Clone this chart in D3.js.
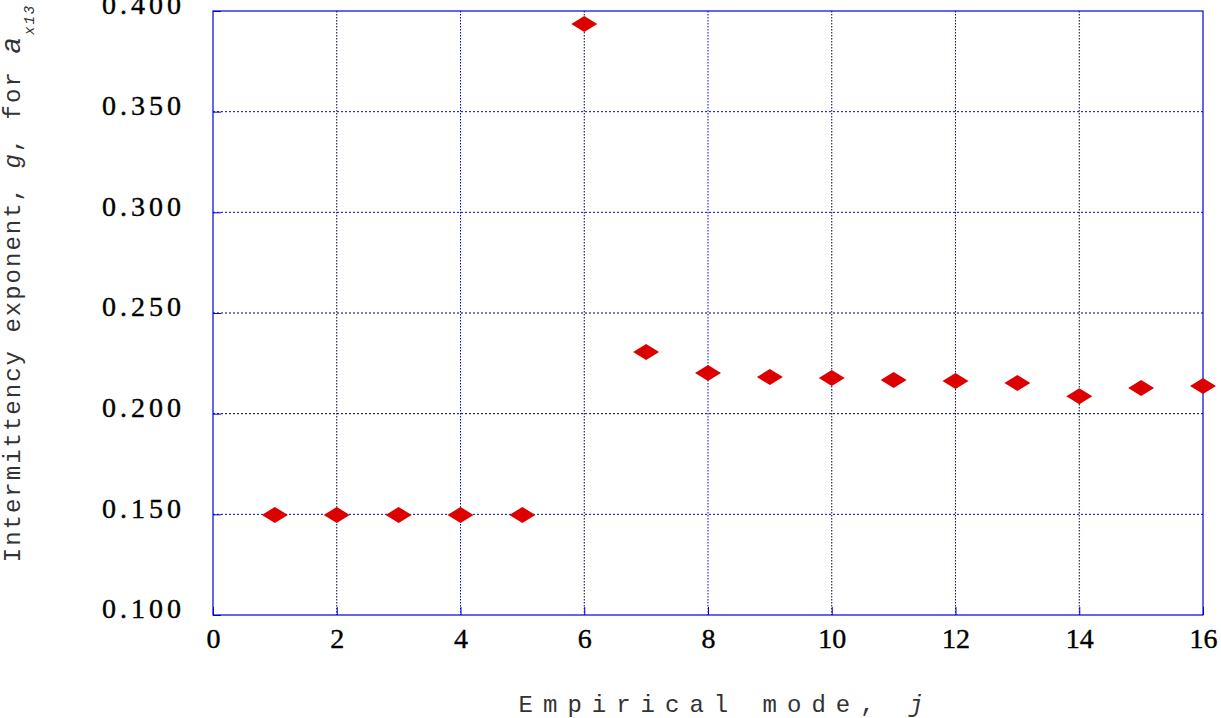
<!DOCTYPE html>
<html><head><meta charset="utf-8">
<script src="https://cdn.jsdelivr.net/npm/d3@7"></script>
<style>body{margin:0;background:#fff}</style>
</head><body><svg id="chart" width="1221" height="718"></svg>
<script>
const modes = [1,2,3,4,5,6,7,8,9,10,11,12,13,14,15,16];
const exponents = [0.1497,0.1497,0.1497,0.1497,0.1497,0.3935,0.2306,0.2202,0.2182,0.2177,0.2167,0.2162,0.2152,0.2087,0.2127,0.2137];
const xTicks = [0,2,4,6,8,10,12,14,16];
const yTicks = [0.1,0.15,0.2,0.25,0.3,0.35,0.4];

const margin = {left: 213, right: 18, top: 11, bottom: 103};
const W = 1221, H = 718;
const svg = d3.select("#chart");
const x = d3.scaleLinear().domain([0,16]).range([margin.left, W - margin.right]);
const y = d3.scaleLinear().domain([0.1,0.4]).range([H - margin.bottom, margin.top]);

// grid
svg.append("g").selectAll("line").data(xTicks.slice(1,-1)).join("line")
  .attr("x1", d => x(d)).attr("x2", d => x(d))
  .attr("y1", y(0.4)).attr("y2", y(0.1))
  .attr("stroke", (d,i) => i % 2 ? "#0000cc" : "#000033").attr("stroke-dasharray", "1.5,1.5");
svg.append("g").selectAll("line").data(yTicks.slice(1,-1)).join("line")
  .attr("y1", d => y(d)).attr("y2", d => y(d))
  .attr("x1", x(0)).attr("x2", x(16))
  .attr("stroke", d => (d === 0.2 || d === 0.25) ? "#000033" : "#0000cc").attr("stroke-dasharray", "2,2");

// frame
svg.append("rect").attr("x", x(0)).attr("y", y(0.4))
  .attr("width", x(16) - x(0)).attr("height", y(0.1) - y(0.4))
  .attr("fill", "none").attr("stroke", "#0000dd").attr("stroke-width", 1.2);

// axes with small inner ticks
const xAxis = svg.append("g").attr("transform", `translate(0,${y(0.1)})`)
  .call(d3.axisBottom(x).tickValues(xTicks).tickSize(-8).tickPadding(12).tickFormat(d3.format("d")));
const yAxis = svg.append("g").attr("transform", `translate(${x(0)},0)`)
  .call(d3.axisLeft(y).tickValues(yTicks).tickSize(-8).tickPadding(28).tickFormat(d3.format(".3f")));
[xAxis, yAxis].forEach(a => {
  a.select(".domain").remove();
  a.selectAll(".tick line").attr("stroke", "#0000dd");
  a.selectAll("text").attr("font-family", "Liberation Serif").attr("font-size", 28)
    .attr("letter-spacing", 4).attr("stroke", "#000").attr("stroke-width", 0.4).attr("fill", "#000");
});
yAxis.selectAll("text").attr("dy", "0.1em");
xAxis.selectAll("text").attr("dy", "0.75em").attr("letter-spacing", 0);

// points
svg.append("g").selectAll("path").data(modes).join("path")
  .attr("transform", (d,i) => `translate(${x(d)},${y(exponents[i])})`)
  .attr("d", "M-13,0L0,-8L13,0L0,8Z").attr("fill", "#dd0000");

// axis titles
svg.append("text").attr("x", (x(0)+x(16))/2 + 18).attr("y", 712).attr("text-anchor", "middle")
  .attr("font-family", "Liberation Mono").attr("font-size", 24).attr("fill", "#333")
  .attr("letter-spacing", 10)
  .html('Empirical mode, <tspan font-style="italic">j</tspan>');
svg.append("text").attr("transform", `translate(20,${(y(0.1)+y(0.4))/2 - 30}) rotate(-90)`)
  .attr("text-anchor", "middle").attr("font-family", "Liberation Mono").attr("font-size", 24)
  .attr("fill", "#333").attr("letter-spacing", 2)
  .html('Intermittency exponent, <tspan font-style="italic">g</tspan>, for <tspan font-style="italic" font-size="28">a</tspan><tspan font-style="italic" font-size="14" dy="14">x13</tspan>');
</script></body></html>
